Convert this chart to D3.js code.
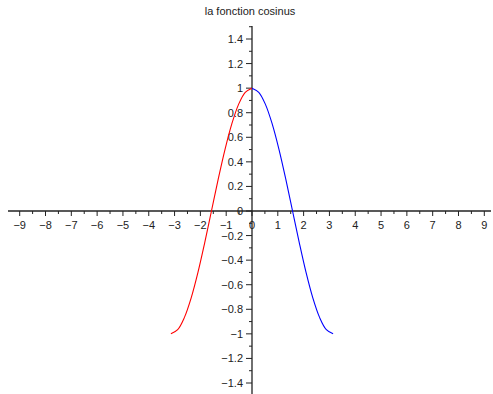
<!DOCTYPE html>
<html><head><meta charset="utf-8">
<script src="https://cdn.jsdelivr.net/npm/d3@7"></script>
<style>body{margin:0;background:#fff}svg{display:block}text{font-family:"Liberation Sans",Arial,sans-serif;font-size:11px;fill:#222}</style>
</head><body>
<script>
const title = "la fonction cosinus";
const xMajor = [-9,-8,-7,-6,-5,-4,-3,-2,-1,0,1,2,3,4,5,6,7,8,9];
const xMinor = [-8.5,-7.5,-6.5,-5.5,-4.5,-3.5,-2.5,-1.5,-0.5,0.5,1.5,2.5,3.5,4.5,5.5,6.5,7.5,8.5];
const yMajor = [-1.4,-1.2,-1,-0.8,-0.6,-0.4,-0.2,0,0.2,0.4,0.6,0.8,1,1.2,1.4];
const yMinor = [-1.3,-1.1,-0.9,-0.7,-0.5,-0.3,-0.1,0.1,0.3,0.5,0.7,0.9,1.1,1.3,1.5];
const redX  = [-3.142,-2.880,-2.618,-2.356,-2.094,-1.833,-1.571,-1.309,-1.047,-0.785,-0.524,-0.262,0];
const redY  = [-1,-0.966,-0.866,-0.707,-0.5,-0.259,0,0.259,0.5,0.707,0.866,0.966,1];
const blueX = [0,0.262,0.524,0.785,1.047,1.309,1.571,1.833,2.094,2.356,2.618,2.880,3.142];
const blueY = [1,0.966,0.866,0.707,0.5,0.259,0,-0.259,-0.5,-0.707,-0.866,-0.966,-1];

const W = 493, H = 394;
const x = d3.scaleLinear().domain([-9, 9]).range([19.7, 484.3]);
const y = d3.scaleLinear().domain([-1.4, 1.4]).range([383, 39]);
const svg = d3.select("body").append("svg").attr("width", W).attr("height", H);
const fmt = v => (v < 0 ? "\u2212" : "") + String(Math.abs(+v.toFixed(1)));

svg.append("text").attr("x", 250).attr("y", 15).attr("text-anchor", "middle").text(title);

const ax = "#222";
// x axis
svg.append("line").attr("x1", 8).attr("x2", 491).attr("y1", y(0)).attr("y2", y(0)).attr("stroke", ax).attr("stroke-width", 1.3);
svg.selectAll(".xmaj").data(xMajor).join("line").attr("x1", d => x(d)).attr("x2", d => x(d))
  .attr("y1", y(0)).attr("y2", y(0) + 5).attr("stroke", ax).attr("stroke-width", 1);
svg.selectAll(".xmin").data(xMinor).join("line").attr("x1", d => x(d)).attr("x2", d => x(d))
  .attr("y1", y(0)).attr("y2", y(0) + 3).attr("stroke", ax).attr("stroke-width", 1);
svg.selectAll(".xl").data(xMajor).join("text").attr("x", d => x(d)).attr("y", y(0) + 18)
  .attr("text-anchor", "middle").text(d => fmt(d));
// y axis
svg.append("line").attr("x1", x(0)).attr("x2", x(0)).attr("y1", 26).attr("y2", 394).attr("stroke", ax).attr("stroke-width", 1.3);
svg.selectAll(".ymaj").data(yMajor).join("line").attr("x1", x(0) - 6).attr("x2", x(0))
  .attr("y1", d => y(d)).attr("y2", d => y(d)).attr("stroke", ax).attr("stroke-width", 1);
svg.selectAll(".ymin").data(yMinor).join("line").attr("x1", x(0) - 3).attr("x2", x(0))
  .attr("y1", d => y(d)).attr("y2", d => y(d)).attr("stroke", ax).attr("stroke-width", 1);
svg.selectAll(".yl").data(yMajor).join("text").attr("x", x(0) - 9).attr("y", d => y(d) + 4)
  .attr("text-anchor", "end").text(d => fmt(d));

const line = d3.line().x(d => x(d[0])).y(d => y(d[1])).curve(d3.curveCatmullRom);
svg.append("path").datum(redX.map((v, i) => [v, redY[i]])).attr("d", line)
  .attr("fill", "none").attr("stroke", "#ff0000").attr("stroke-width", 1.1);
svg.append("path").datum(blueX.map((v, i) => [v, blueY[i]])).attr("d", line)
  .attr("fill", "none").attr("stroke", "#0000ff").attr("stroke-width", 1.1);
</script>
</body></html>
